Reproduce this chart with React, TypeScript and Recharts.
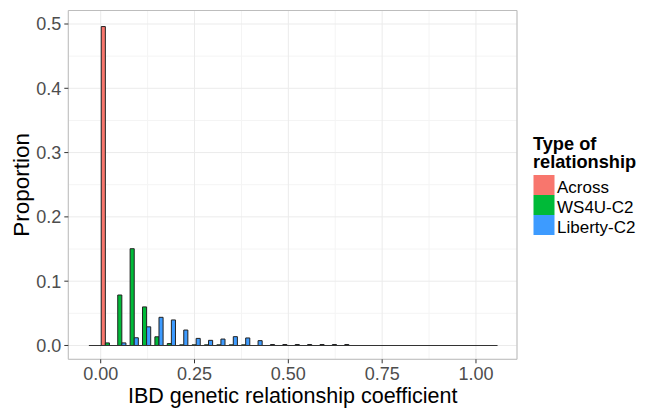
import React from 'react';
import {
  ComposedChart,
  Bar,
  XAxis,
  YAxis,
  CartesianGrid,
  ReferenceLine,
  ReferenceArea,
} from 'recharts';

// ---- data ----
const BIN_CENTERS = [
  -0.015, 0.018, 0.051, 0.084, 0.117, 0.15, 0.183, 0.216, 0.249, 0.282, 0.315,
  0.348, 0.381, 0.414, 0.447, 0.48, 0.513, 0.546, 0.579, 0.612, 0.645, 0.678,
  0.711, 0.744, 0.777, 0.81, 0.843, 0.876, 0.909, 0.942, 0.975, 1.008, 1.041,
];
const BIN_WIDTH = 0.033;

const ACROSS = [
  0, 0.496, 0, 0, 0, 0, 0, 0, 0, 0, 0, 0, 0, 0, 0, 0, 0, 0, 0, 0, 0, 0, 0, 0,
  0, 0, 0, 0, 0, 0, 0, 0, 0,
];
const WS4U_C2 = [
  0, 0.004, 0.0785, 0.1505, 0.06, 0.0135, 0.003, 0.001, 0.001, 0.001, 0.001,
  0.001, 0.001, 0, 0, 0, 0, 0, 0, 0, 0, 0, 0, 0, 0, 0, 0, 0, 0, 0, 0, 0, 0,
];
const LIBERTY_C2 = [
  0, 0, 0.004, 0.012, 0.029, 0.0438, 0.0397, 0.024, 0.011, 0.008, 0.01, 0.0137,
  0.0117, 0.0075, 0.0015, 0.0015, 0.0015, 0.0015, 0.0015, 0.0015, 0.0015, 0, 0,
  0, 0, 0, 0, 0, 0, 0, 0, 0, 0,
];

const SERIES = [
  { key: 'across', name: 'Across', color: '#F8766D', values: ACROSS },
  { key: 'ws4u', name: 'WS4U-C2', color: '#00BA38', values: WS4U_C2 },
  { key: 'liberty', name: 'Liberty-C2', color: '#3D9BFF', values: LIBERTY_C2 },
];

const X_TICKS = [0, 0.25, 0.5, 0.75, 1];
const X_MINOR = [0.125, 0.375, 0.625, 0.875];
const Y_TICKS = [0, 0.1, 0.2, 0.3, 0.4, 0.5];
const Y_MINOR = [0.05, 0.15, 0.25, 0.35, 0.45];
const X_DOMAIN: [number, number] = [-0.0863, 1.1093];
const Y_DOMAIN: [number, number] = [-0.0215, 0.521];

const X_TITLE = 'IBD genetic relationship coefficient';
const Y_TITLE = 'Proportion';
const LEGEND_TITLE = ['Type of', 'relationship'];

const rows = BIN_CENTERS.map((x, i) => {
  const r: Record<string, number> = { x };
  SERIES.forEach((s) => {
    r[s.key] = s.values[i];
  });
  return r;
});

const FONT = "'Liberation Sans', Arial, Helvetica, sans-serif";

const YLabel = (props: any) => {
  const vb = props.viewBox || { x: 0, y: 10.5, width: 68.3, height: 348.8 };
  const cx = vb.x + 28.7;
  const cy = vb.y + vb.height / 2;
  return (
    <text
      x={cx}
      y={cy}
      transform={`rotate(-90 ${cx} ${cy})`}
      textAnchor="middle"
      fontSize={22.5}
      fill="#000"
      fontFamily={FONT}
    >
      {Y_TITLE}
    </text>
  );
};

export default function App() {
  const first = BIN_CENTERS[0] - BIN_WIDTH / 2;
  const last = BIN_CENTERS[BIN_CENTERS.length - 1] + BIN_WIDTH / 2;
  return (
    <div
      style={{
        position: 'absolute',
        left: 0,
        top: 0,
        width: 645,
        height: 408,
        background: '#fff',
        fontFamily: FONT,
        overflow: 'hidden',
      }}
    >
      <ComposedChart
        width={645}
        height={408}
        data={rows}
        margin={{ top: 10.5, right: 128, bottom: 0, left: 0 }}
        barGap={0}
        barCategoryGap={0}
      >
        <CartesianGrid
          stroke="#F4F4F4"
          verticalValues={X_MINOR}
          horizontalValues={Y_MINOR}
        />
        <CartesianGrid stroke="#EBEBEB" />
        <XAxis
          dataKey="x"
          type="number"
          domain={X_DOMAIN}
          allowDataOverflow
          ticks={X_TICKS}
          tickFormatter={(v: number) => v.toFixed(2)}
          height={48.7}
          axisLine={false}
          tickLine={{ stroke: '#333333' }}
          tickSize={4}
          tickMargin={4}
          tick={{ fontSize: 18, fill: '#4D4D4D', fontFamily: FONT }}
          interval={0}
          label={{
            value: X_TITLE,
            position: 'insideBottom',
            offset: 5,
            fontSize: 21.5,
            fill: '#000',
            fontFamily: FONT,
          }}
        />
        <YAxis
          type="number"
          domain={Y_DOMAIN}
          allowDataOverflow
          ticks={Y_TICKS}
          tickFormatter={(v: number) => v.toFixed(1)}
          width={68.3}
          axisLine={false}
          tickLine={{ stroke: '#333333' }}
          tickSize={4}
          tickMargin={3}
          tick={{ fontSize: 18, fill: '#4D4D4D', fontFamily: FONT }}
          interval={0}
          label={<YLabel />}
        />
        {SERIES.map((s) => (
          <Bar
            key={s.key}
            dataKey={s.key}
            name={s.name}
            fill={s.color}
            stroke="#222"
            strokeWidth={1}
            barSize={4.1}
            isAnimationActive={false}
          />
        ))}
        <ReferenceLine
          segment={[
            { x: first, y: 0 },
            { x: last, y: 0 },
          ]}
          stroke="#333"
          strokeWidth={1.2}
        />
        <ReferenceArea
          x1={X_DOMAIN[0]}
          x2={X_DOMAIN[1]}
          y1={Y_DOMAIN[0]}
          y2={Y_DOMAIN[1]}
          fill="none"
          stroke="#BDBDBD"
          strokeWidth={1}
          ifOverflow="visible"
        />
      </ComposedChart>
      <svg
        width={645}
        height={408}
        style={{ position: 'absolute', left: 0, top: 0, pointerEvents: 'none' }}
      >
        {LEGEND_TITLE.map((t, i) => (
          <text
            key={t}
            x={533}
            y={150 + i * 18.2}
            fontSize={18.2}
            fontWeight="bold"
            fill="#000"
            fontFamily={FONT}
          >
            {t}
          </text>
        ))}
        {SERIES.map((s, i) => (
          <g key={s.key}>
            <rect x={533.5} y={175 + i * 20} width={21} height={20} fill={s.color} />
            <text
              x={557}
              y={175 + i * 20 + 17.5}
              fontSize={17}
              fill="#000"
              fontFamily={FONT}
            >
              {s.name}
            </text>
          </g>
        ))}
      </svg>
    </div>
  );
}
